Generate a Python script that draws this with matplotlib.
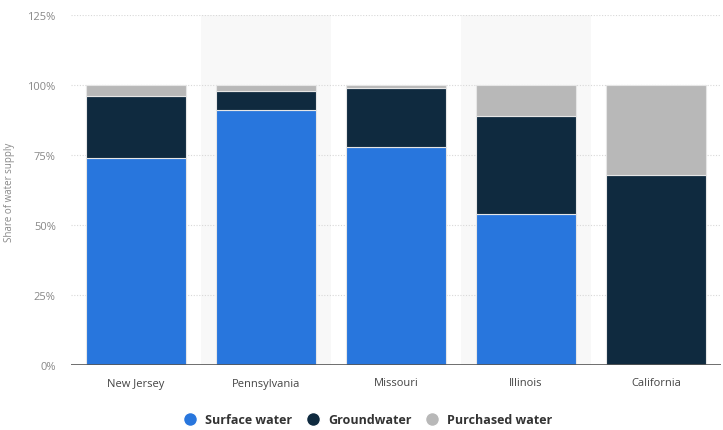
import matplotlib
matplotlib.use("Agg")
import matplotlib.pyplot as plt
from matplotlib.lines import Line2D
import numpy as np

states = ["New Jersey", "Pennsylvania", "Missouri", "Illinois", "California"]
surface = [74, 91, 78, 54, 0]
ground = [22, 7, 21, 35, 68]
purchased = [4, 2, 1, 11, 32]
series_names = ["Surface water", "Groundwater", "Purchased water"]
colors = ["#2876dd", "#0f2a3f", "#b8b8b8"]
yticks = [0, 25, 50, 75, 100, 125]

plt.rcParams['font.family'] = ['Open Sans', 'DejaVu Sans']

fig = plt.figure(figsize=(7.23, 4.31), dpi=100)
ax = fig.add_axes([71/723, 1-366/431, 650/723, 350/431])

x = np.arange(len(states))
ax.set_xlim(-0.5, len(states) - 0.5)
ax.set_ylim(0, 125)

for i in range(len(states)):
    if i % 2 == 1:
        ax.axvspan(i - 0.5, i + 0.5, color="#f8f8f8", zorder=0, lw=0)

for y in yticks[1:]:
    ax.axhline(y, color="#d8d8d8", lw=0.8, ls=(0, (1, 1.5)), zorder=1)

bottom = np.zeros(len(states))
for vals, c in zip([surface, ground, purchased], colors):
    v = np.array(vals, dtype=float)
    ax.bar(x, v, width=100/130, bottom=bottom, color=c, edgecolor="#e6e6e6",
           linewidth=0.8, zorder=3)
    bottom += v

ax.axhline(0, color="#555555", lw=1.2, zorder=4)

for s in ax.spines.values():
    s.set_visible(False)

ax.set_xticks(x)
ax.set_xticklabels(states, fontsize=8, color="#444444")
ax.set_yticks(yticks)
ax.set_yticklabels([f"{t}%" for t in yticks], fontsize=8, color="#888888")
ax.tick_params(axis="both", length=0)
ax.tick_params(axis="y", pad=11)
ax.tick_params(axis="x", pad=9)
ax.set_ylabel("Share of water supply", fontsize=7, color="#888888")
ax.yaxis.set_label_coords((15 - 71) / 650, (364 - 190) / 350)

handles = [Line2D([0], [0], marker="o", color="w", markerfacecolor=c,
                  markersize=10, lw=0) for c in colors]
leg = fig.legend(handles, series_names, loc="center", bbox_to_anchor=(0.505, 1-421/431),
                 ncol=3, frameon=False, handletextpad=0.2, columnspacing=0.65,
                 prop={"weight": "bold", "size": 9})
for t in leg.get_texts():
    t.set_color("#333333")

fig.savefig("out.png", dpi=100)
